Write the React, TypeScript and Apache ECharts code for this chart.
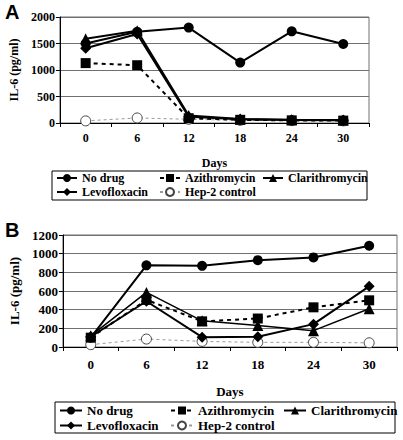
import React, { useEffect, useRef } from "react";
import * as echarts from "echarts";

const days = ["0", "6", "12", "18", "24", "30"];
const seriesNames = ["No drug", "Azithromycin", "Clarithromycin", "Levofloxacin", "Hep-2 control"];

// Panel A
const aNoDrug = [1500, 1720, 1800, 1140, 1730, 1490];
const aAzithro = [1130, 1090, 90, 60, 50, 45];
const aClari = [1590, 1740, 140, 75, 60, 55];
const aLevo = [1410, 1680, 120, 70, 55, 50];
const aHep2 = [40, 95, 70, 50, 45, 40];

// Panel B
const bNoDrug = [100, 875, 870, 930, 960, 1085];
const bAzithro = [100, 505, 275, 305, 425, 500];
const bClari = [120, 585, 280, 230, 175, 410];
const bLevo = [110, 490, 105, 110, 245, 650];
const bHep2 = [25, 85, 60, 50, 50, 45];

const aTicks = { min: 0, max: 2000, interval: 500 };
const bTicks = { min: 0, max: 1200, interval: 200 };

const FONT = "Liberation Serif";

function makeSeries(idx: number, vals: number[][]) {
  const [noDrug, azi, cla, levo, hep] = vals;
  const base = { type: "line", xAxisIndex: idx, yAxisIndex: idx, showAllSymbol: true };
  return [
    {
      ...base,
      name: "Hep-2 control",
      data: hep,
      symbol: "circle",
      symbolSize: 10,
      lineStyle: { color: "#9a9a9a", width: 1, type: [3, 3] },
      itemStyle: { color: "#ffffff", borderColor: "#444", borderWidth: 1 },
      z: 2,
    },
    {
      ...base,
      name: "Azithromycin",
      data: azi,
      symbol: "rect",
      symbolSize: 10,
      lineStyle: { color: "#000", width: 2, type: [4, 4] },
      itemStyle: { color: "#000" },
      z: 3,
    },
    {
      ...base,
      name: "Clarithromycin",
      data: cla,
      symbol: "triangle",
      symbolSize: 11,
      lineStyle: { color: "#000", width: idx === 0 ? 2 : 1.5 },
      itemStyle: { color: "#000" },
      z: 4,
    },
    {
      ...base,
      name: "Levofloxacin",
      data: levo,
      symbol: "diamond",
      symbolSize: 11,
      lineStyle: { color: "#000", width: 2 },
      itemStyle: { color: "#000" },
      z: 5,
    },
    {
      ...base,
      name: "No drug",
      data: noDrug,
      symbol: "circle",
      symbolSize: 10,
      lineStyle: { color: "#000", width: 2 },
      itemStyle: { color: "#000" },
      z: 6,
    },
  ];
}

function makeLegends(
  rows: { name: string; left: number; top: number }[],
  itemWidth: number,
  fontSize: number
) {
  return rows.map((r) => ({
    data: [r.name],
    left: r.left,
    top: r.top,
    padding: 0,
    itemWidth,
    itemHeight: 10,
    itemGap: 0,
    selectedMode: false,
    textStyle: { fontFamily: FONT, fontWeight: "bold", fontSize, color: "#000" },
  }));
}

function xAxisCfg(gridIndex: number, nameGap: number, margin: number, fontSize: number) {
  return {
    type: "category",
    gridIndex,
    data: days,
    boundaryGap: true,
    name: "Days",
    nameLocation: "middle",
    nameGap,
    nameTextStyle: { fontFamily: FONT, fontWeight: "bold", fontSize, color: "#000" },
    axisLine: { show: true, lineStyle: { color: "#000", width: 1 } },
    axisTick: { show: true, length: 4, lineStyle: { color: "#000" } },
    axisLabel: { fontFamily: FONT, fontWeight: "bold", fontSize, color: "#000", margin },
    splitLine: { show: false },
  };
}

function yAxisCfg(gridIndex: number, t: { min: number; max: number; interval: number }, nameGap: number, fontSize: number) {
  return {
    type: "value",
    gridIndex,
    min: t.min,
    max: t.max,
    interval: t.interval,
    name: "IL-6 (pg/ml)",
    nameLocation: "middle",
    nameGap,
    nameRotate: 90,
    nameTextStyle: { fontFamily: FONT, fontWeight: "bold", fontSize, color: "#000" },
    axisLine: { show: true, lineStyle: { color: "#000", width: 1 } },
    axisTick: { show: true, length: 4, lineStyle: { color: "#000" } },
    axisLabel: {
      fontFamily: FONT,
      fontWeight: "bold",
      fontSize,
      color: "#000",
      margin: 5,
      formatter: (v: number) => String(v),
    },
    splitLine: { show: true, lineStyle: { color: "#707070", width: 1 } },
  };
}

export default function App() {
  const ref = useRef<HTMLDivElement>(null);
  useEffect(() => {
    if (!ref.current) return;
    const chart = echarts.init(ref.current, null, { renderer: "svg" });
    const option = {
      animation: false,
      backgroundColor: "#ffffff",
      grid: [
        { left: 51, top: 17, width: 318, height: 106, show: true, borderColor: "#707070", borderWidth: 1 },
        { left: 51, top: 235, width: 346, height: 112, show: true, borderColor: "#707070", borderWidth: 1 },
      ],
      xAxis: [xAxisCfg(0, 34, 9, 12), xAxisCfg(1, 38, 11, 13)],
      yAxis: [yAxisCfg(0, aTicks, 36, 12), yAxisCfg(1, bTicks, 39, 13)],
      legend: [
        ...makeLegends(
          [
            { name: seriesNames[0], left: 56, top: 172 },
            { name: seriesNames[1], left: 159, top: 172 },
            { name: seriesNames[2], left: 262, top: 172 },
            { name: seriesNames[3], left: 56, top: 186 },
            { name: seriesNames[4], left: 159, top: 186 },
          ],
          20,
          12
        ),
        ...makeLegends(
          [
            { name: seriesNames[0], left: 59, top: 404 },
            { name: seriesNames[1], left: 170, top: 404 },
            { name: seriesNames[2], left: 283, top: 404 },
            { name: seriesNames[3], left: 59, top: 419 },
            { name: seriesNames[4], left: 170, top: 419 },
          ],
          22,
          13
        ),
      ],
      graphic: [
        {
          type: "rect",
          shape: { x: 52, y: 171, width: 315, height: 29 },
          style: { fill: "none", stroke: "#000", lineWidth: 1 },
          z: -1,
        },
        {
          type: "rect",
          shape: { x: 55, y: 402, width: 340, height: 31 },
          style: { fill: "none", stroke: "#000", lineWidth: 1 },
          z: -1,
        },
        {
          type: "text",
          left: 5,
          top: 2,
          style: { text: "A", fontFamily: "Liberation Sans", fontWeight: "bold", fontSize: 20, fill: "#000" },
        },
        {
          type: "text",
          left: 5,
          top: 220,
          style: { text: "B", fontFamily: "Liberation Sans", fontWeight: "bold", fontSize: 20, fill: "#000" },
        },
      ],
      series: [
        ...makeSeries(0, [aNoDrug, aAzithro, aClari, aLevo, aHep2]),
        ...makeSeries(1, [bNoDrug, bAzithro, bClari, bLevo, bHep2]),
      ],
    };
    chart.setOption(option as any);
    return () => chart.dispose();
  }, []);
  return (
    <div
      ref={ref}
      style={{ position: "fixed", left: 0, top: 0, width: 403, height: 440, background: "#fff" }}
    />
  );
}
